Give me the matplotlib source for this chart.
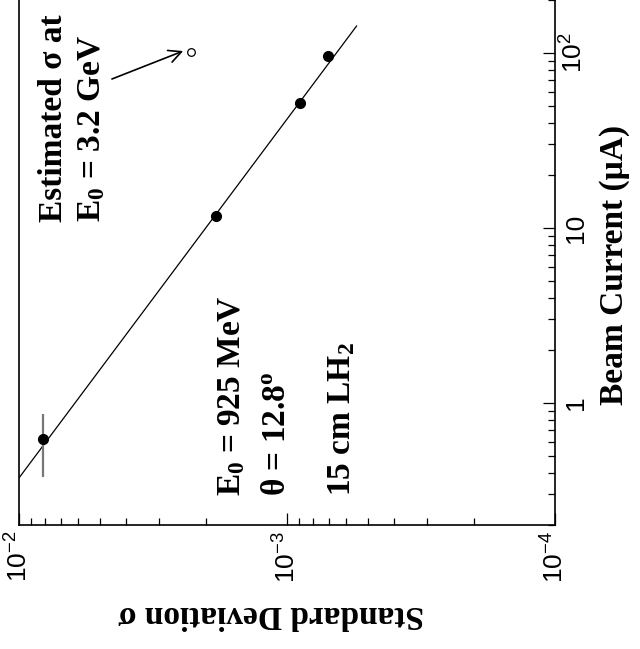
import numpy as np
import matplotlib
matplotlib.use('Agg')
import matplotlib.pyplot as plt
from matplotlib.ticker import FixedLocator, LogLocator, NullFormatter, FixedFormatter

# ---- data ----
current_meas = [0.62, 11.7, 52.1, 96.1]        # beam current (uA)
current_err = [0.24, 0.0, 0.0, 0.0]
sigma_meas = [8.16e-3, 1.84e-3, 8.98e-4, 7.03e-4]
current_est = [101.4]
sigma_est = [2.28e-3]
fit_current = [0.373, 142.6]
fit_sigma = [1.0e-2, 5.5e-4]

sigma_ticks = [1e-2, 1e-3, 1e-4]
sigma_ticklabels = [r'$\mathsf{10^{-2}}$', r'$\mathsf{10^{-3}}$', r'$\mathsf{10^{-4}}$']
current_ticks = [1, 10, 100]
current_ticklabels = ['1', '10', r'$\mathsf{10^{2}}$']

plt.rcParams['mathtext.fontset'] = 'custom'
plt.rcParams['mathtext.rm'] = 'Liberation Serif:bold'
plt.rcParams['mathtext.it'] = 'Liberation Serif:bold'
plt.rcParams['mathtext.bf'] = 'Liberation Serif:bold'
plt.rcParams['mathtext.sf'] = 'Liberation Sans'
plt.rcParams['font.family'] = ['Liberation Serif', 'DejaVu Serif']

fig = plt.figure(figsize=(6.4, 6.49), dpi=100)
H = 175 * np.log10(300 / 0.2)
ax = fig.add_axes([19 / 640, (649 - 525.3) / 649, 536 / 640, H / 649])

ax.set_xscale('log')
ax.set_yscale('log')
ax.set_xlim(1e-2, 1e-4)
ax.set_ylim(0.2, 300)

for s in ax.spines.values():
    s.set_linewidth(1.2)

# fit line
ax.plot(fit_sigma, fit_current, color='black', lw=0.9)
# measured points
ax.errorbar(sigma_meas, current_meas, yerr=current_err, fmt='o', color='black',
            ecolor='#777777', elinewidth=1.6, capsize=0, markersize=7, zorder=3)
# estimated point
ax.plot(sigma_est, current_est, 'o', mfc='white', mec='black', mew=0.9, markersize=5.5)
ax.annotate('', xy=(2.44e-3, 102.6), xytext=(4.5e-3, 71),
            arrowprops=dict(arrowstyle='->,head_length=0.9,head_width=0.45',
                            lw=1.2, color='black', shrinkA=0, shrinkB=0))

# ticks
ax.xaxis.set_major_locator(FixedLocator(sigma_ticks))
ax.xaxis.set_major_formatter(FixedFormatter(sigma_ticklabels))
ax.xaxis.set_minor_locator(LogLocator(base=10, subs=np.arange(2, 10), numticks=20))
ax.xaxis.set_minor_formatter(NullFormatter())
ax.yaxis.set_major_locator(FixedLocator(current_ticks))
ax.yaxis.set_major_formatter(FixedFormatter(current_ticklabels))
ax.yaxis.set_minor_locator(LogLocator(base=10, subs=np.arange(2, 10), numticks=20))
ax.yaxis.set_minor_formatter(NullFormatter())

ax.tick_params(axis='x', which='both', direction='in', bottom=True, top=False,
               labelsize=19, pad=4, width=0.9)
ax.tick_params(axis='y', which='both', direction='in', left=False, right=True,
               labelleft=False, labelright=True, labelsize=19, pad=20, width=0.9)
ax.tick_params(which='major', length=9)
ax.tick_params(which='minor', length=5)

for lab in ax.get_xticklabels():
    lab.set_rotation(90)
    lab.set_rotation_mode('anchor')
    lab.set_ha('right')
    lab.set_va('center')
    lab.set_family('Liberation Sans')
for lab in ax.get_yticklabels():
    lab.set_rotation(90)
    lab.set_rotation_mode('anchor')
    lab.set_ha('center')
    lab.set_va('baseline')
    lab.set_family('Liberation Sans')

# axis labels
ax.set_xlabel('Standard Deviation σ', fontsize=24, fontweight='bold',
              rotation=180, rotation_mode='anchor', ha='center', va='center')
ax.xaxis.set_label_coords((271 - 19) / 536, (525.3 - 615) / H)
ax.yaxis.set_label_position('right')
ax.set_ylabel('Beam Current (μA)', fontsize=24, fontweight='bold',
              rotation=90, rotation_mode='anchor', ha='center', va='baseline')
ax.yaxis.set_label_coords((623 - 19) / 536, (525.3 - 265) / H)

# annotations
tkw = dict(rotation=90, rotation_mode='anchor', ha='left', va='baseline',
           fontsize=24, fontweight='bold')
ax.text(6.91e-3, 10.8, 'Estimated σ at', **tkw)
ax.text(4.99e-3, 10.8, r'E$_0$ = 3.2 GeV', **tkw)
ax.text(1.50e-3, 0.294, r'E$_0$ = 925 MeV', **tkw)
ax.text(1.02e-3, 0.294, r'θ = 12.8$^\mathrm{o}$', **tkw)
ax.text(5.8e-4, 0.294, r'15 cm LH$_2$', **tkw)

fig.savefig('out.png', dpi=100)
